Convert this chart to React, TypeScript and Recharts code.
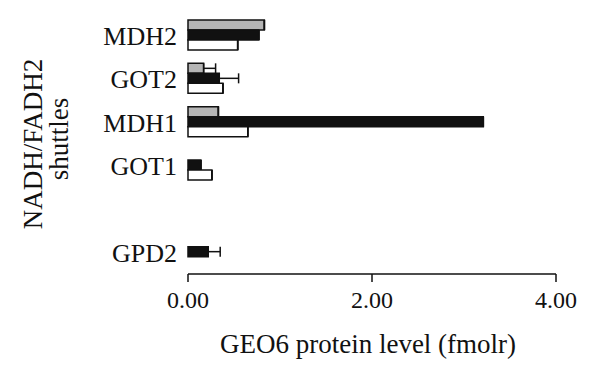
import { BarChart, Bar, XAxis, YAxis, ErrorBar } from "recharts";

// shuttle genes, top to bottom; the blank slot keeps the gap above GPD2
const genes = ["MDH2", "GOT2", "MDH1", "GOT1", " ", "GPD2"];
const grayValues = [0.83, 0.17, 0.33, 0, 0, 0];
const grayErrors = [0, 0.13, 0, 0, 0, 0];
const blackValues = [0.77, 0.34, 3.21, 0.14, 0, 0.22];
const blackErrors = [0, 0.21, 0, 0, 0, 0.13];
const whiteValues = [0.54, 0.38, 0.65, 0.26, 0, 0];
const whiteErrors = [0, 0, 0, 0, 0, 0];
const xTicks = [0, 2, 4];

const FONT = "'Liberation Serif', 'Times New Roman', serif";
const INK = "#111";

const rows = genes.map((g, i) => ({
  gene: g,
  gray: grayValues[i] || null,
  grayErr: [0, grayErrors[i]],
  black: blackValues[i] || null,
  blackErr: [0, blackErrors[i]],
  white: whiteValues[i] || null,
  whiteErr: [0, whiteErrors[i]],
}));

function YLabel({ viewBox }: any) {
  const cy = viewBox.y + viewBox.height / 2;
  return (
    <g fontFamily={FONT} fontSize={27} fill={INK}>
      <text x={42} y={cy} textAnchor="middle" transform={`rotate(-90, 42, ${cy})`}>
        NADH/FADH2
      </text>
      <text x={68} y={cy - 5} textAnchor="middle" transform={`rotate(-90, 68, ${cy - 5})`}>
        shuttles
      </text>
    </g>
  );
}

function XLabel({ viewBox }: any) {
  return (
    <text
      x={viewBox.x + viewBox.width / 2 - 4}
      y={viewBox.y + 79}
      textAnchor="middle"
      fontFamily={FONT}
      fontSize={27}
      fill={INK}
    >
      GEO6 protein level (fmolr)
    </text>
  );
}

export default function App() {
  return (
    <div style={{ position: "absolute", left: 0, top: 0, background: "#fff" }}>
      <BarChart
        width={600}
        height={382}
        data={rows}
        layout="vertical"
        margin={{ top: 14, right: 44, bottom: 8, left: 0 }}
        barCategoryGap={6}
        barGap={0}
      >
        <XAxis
          type="number"
          domain={[0, 4]}
          ticks={xTicks}
          tickFormatter={(v: number) => v.toFixed(2)}
          stroke={INK}
          strokeWidth={1.5}
          tickSize={8}
          tickMargin={9}
          height={100}
          tick={{ fill: INK, fontSize: 24, fontFamily: FONT }}
          label={<XLabel />}
        />
        <YAxis
          type="category"
          dataKey="gene"
          width={188}
          axisLine={false}
          tickLine={false}
          tickSize={0}
          tickMargin={11}
          interval={0}
          tick={{ fill: INK, fontSize: 26, fontFamily: FONT }}
          label={<YLabel />}
        />
        <Bar dataKey="gray" fill="#b5b5b5" stroke={INK} strokeWidth={1.5} isAnimationActive={false}>
          <ErrorBar dataKey="grayErr" direction="x" width={5} stroke={INK} strokeWidth={1.5} />
        </Bar>
        <Bar dataKey="black" fill={INK} stroke={INK} strokeWidth={1.5} isAnimationActive={false}>
          <ErrorBar dataKey="blackErr" direction="x" width={5} stroke={INK} strokeWidth={1.5} />
        </Bar>
        <Bar dataKey="white" fill="#fff" stroke={INK} strokeWidth={1.5} isAnimationActive={false}>
          <ErrorBar dataKey="whiteErr" direction="x" width={5} stroke={INK} strokeWidth={1.5} />
        </Bar>
      </BarChart>
    </div>
  );
}
